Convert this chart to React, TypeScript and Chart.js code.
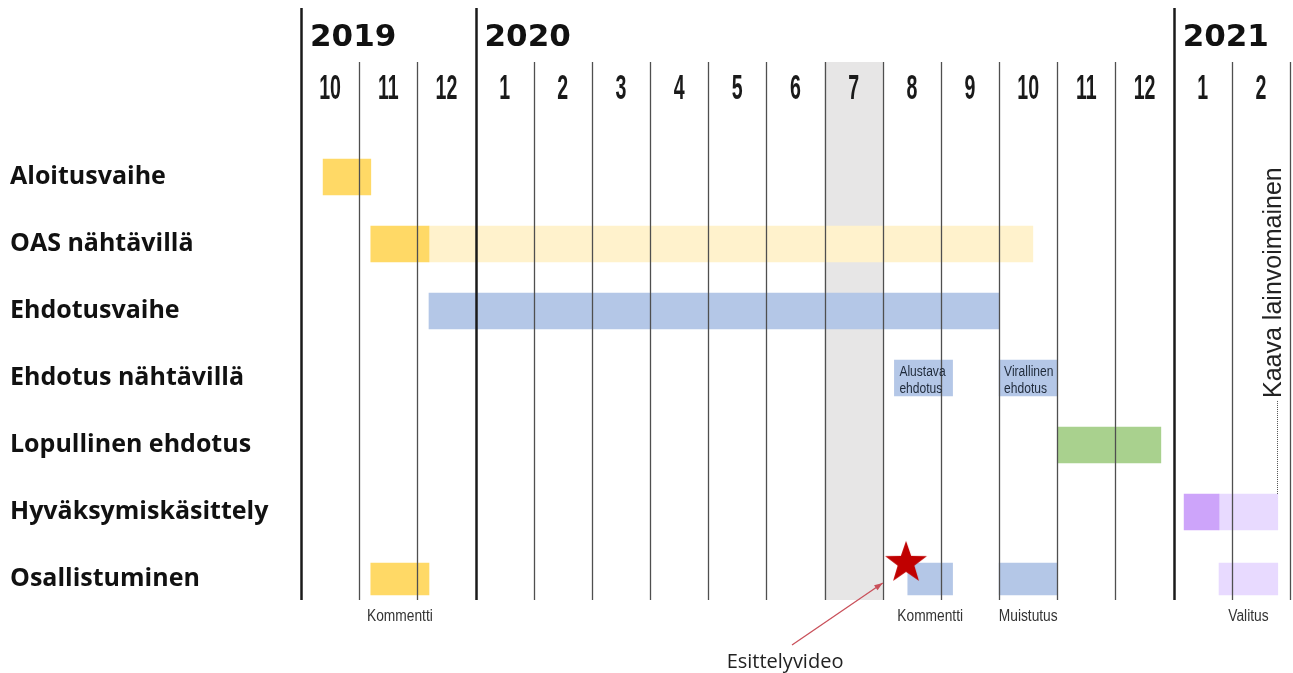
import React, { useEffect, useRef } from "react";
import { Chart, registerables } from "chart.js";

Chart.register(...registerables);

// ---- Data ----
const ROWS = [
  "Aloitusvaihe",
  "OAS nähtävillä",
  "Ehdotusvaihe",
  "Ehdotus nähtävillä",
  "Lopullinen ehdotus",
  "Hyväksymiskäsittely",
  "Osallistuminen",
];
const MONTH_LABELS = ["10", "11", "12", "1", "2", "3", "4", "5", "6", "7", "8", "9", "10", "11", "12", "1", "2"];
const YEAR_LABELS = ["2019", "2020", "2021"];
const YEAR_START_INDEX = [0, 3, 15];
const HIGHLIGHT_INDEX = 9; // 7/2020

// bars: row index, start and end in months counted from the start of 10/2019
const YELLOW_ROWS = [0, 1];
const YELLOW_START = [0.38, 1.2];
const YELLOW_END = [1.2, 2.2];

const PALE_YELLOW_ROWS = [1];
const PALE_YELLOW_START = [2.2];
const PALE_YELLOW_END = [12.58];

const BLUE_ROWS = [2];
const BLUE_START = [2.2];
const BLUE_END = [12.0];

const BOX_ROWS = [3, 3];
const BOX_START = [10.2, 12.0];
const BOX_END = [11.2, 13.0];
const BOX_LABELS = [["Alustava", "ehdotus"], ["Virallinen", "ehdotus"]];

const GREEN_ROWS = [4];
const GREEN_START = [13.0];
const GREEN_END = [14.78];

const PURPLE_ROWS = [5];
const PURPLE_START = [15.18];
const PURPLE_END = [15.78];

const LIGHT_PURPLE_ROWS = [5];
const LIGHT_PURPLE_START = [15.78];
const LIGHT_PURPLE_END = [16.79];

const PART_ROW = 6;
const PART_START = [1.2, 10.43, 12.0, 15.78];
const PART_END = [2.2, 11.2, 13.0, 16.79];
const PART_KIND = ["yellow", "blue", "blue", "lightPurple"];
const PART_LABELS = ["Kommentti", "Kommentti", "Muistutus", "Valitus"];

const STAR_X = [10.4];
const STAR_Y = [5.73];
const VIDEO_LABEL = "Esittelyvideo";
const LEGAL_LABEL = "Kaava lainvoimainen";

const COLORS: Record<string, string> = {
  yellow: "#FFD966",
  paleYellow: "#FFF2CC",
  blue: "#B4C7E7",
  green: "#A9D18E",
  purple: "#CDA4FA",
  lightPurple: "#E8DAFF",
};

function bars(rows: number[], start: number[], end: number[]) {
  return rows.map((r, i) => ({ x: [start[i], end[i]], y: r }));
}

function drawText(
  ctx: CanvasRenderingContext2D,
  text: string,
  x: number,
  y: number,
  font: string,
  color: string,
  align: CanvasTextAlign,
  scaleX = 1,
  baseline: CanvasTextBaseline = "middle"
) {
  ctx.save();
  ctx.font = font;
  ctx.fillStyle = color;
  ctx.textAlign = align;
  ctx.textBaseline = baseline;
  ctx.translate(x, y);
  ctx.scale(scaleX, 1);
  ctx.fillText(text, 0, 0);
  ctx.restore();
}

function makeStar(size: number, color: string) {
  const c = document.createElement("canvas");
  c.width = size;
  c.height = size;
  const ctx = c.getContext("2d")!;
  const R = size / 2 - 1;
  const r = R * 0.4;
  const cx = size / 2;
  const cy = size / 2 + R * 0.095;
  ctx.beginPath();
  for (let i = 0; i < 10; i++) {
    const rad = i % 2 === 0 ? R : r;
    const a = -Math.PI / 2 + (i * Math.PI) / 5;
    ctx.lineTo(cx + rad * Math.cos(a), cy + rad * Math.sin(a));
  }
  ctx.closePath();
  ctx.fillStyle = color;
  ctx.fill();
  return c;
}

const timelinePlugin = {
  id: "timeline",
  beforeDatasetsDraw(chart: any) {
    const { ctx, chartArea, scales } = chart;
    const xs = scales.x;
    const x0 = xs.getPixelForValue(HIGHLIGHT_INDEX);
    const x1 = xs.getPixelForValue(HIGHLIGHT_INDEX + 1);
    ctx.save();
    ctx.fillStyle = "#E7E6E6";
    ctx.fillRect(x0, chartArea.top, x1 - x0, chartArea.bottom - chartArea.top);
    ctx.restore();
  },
  afterDatasetsDraw(chart: any) {
    const { ctx, chartArea, scales } = chart;
    const xs = scales.x;
    const ys = scales.y;
    const top = chartArea.top;
    const bottom = chartArea.bottom;

    // vertical month lines (drawn over bars)
    ctx.save();
    for (let i = 0; i <= MONTH_LABELS.length; i++) {
      const x = Math.round(xs.getPixelForValue(i)) + 0.5;
      const isYear = YEAR_START_INDEX.includes(i);
      ctx.beginPath();
      ctx.strokeStyle = isYear ? "#1a1a1a" : "#4f4f4f";
      ctx.lineWidth = isYear ? 2.5 : 1.3;
      ctx.moveTo(x, isYear ? 8 : top);
      ctx.lineTo(x, bottom);
      ctx.stroke();
    }
    ctx.restore();

    // year headers
    YEAR_LABELS.forEach((label, i) => {
      const x = xs.getPixelForValue(YEAR_START_INDEX[i]) + 9;
      drawText(ctx, label, x, top - 24, "bold 31px 'DejaVu Sans'", "#111111", "left");
    });

    // month headers
    MONTH_LABELS.forEach((label, i) => {
      const x = xs.getPixelForValue(i + 0.5);
      drawText(ctx, label, x, top + 27, "bold 35px 'Liberation Sans'", "#1a1a1a", "center", 0.56);
    });

    // labels inside proposal boxes
    const boxMeta = chart.getDatasetMeta(4);
    boxMeta.data.forEach((el: any, i: number) => {
      const p = el.getProps(["x", "y", "base", "height"], true);
      const left = Math.min(p.x, p.base) + 5;
      const boxTop = p.y - p.height / 2;
      BOX_LABELS[i].forEach((line, j) => {
        drawText(ctx, line, left, boxTop + 16 + j * 17, "14px 'Liberation Sans'", "#1f2a3a", "left", 0.86, "alphabetic");
      });
    });

    // labels under participation bars
    const partMeta = chart.getDatasetMeta(8);
    partMeta.data.forEach((el: any, i: number) => {
      const p = el.getProps(["x", "y", "base", "height"], true);
      const cx = (p.x + p.base) / 2;
      drawText(ctx, PART_LABELS[i], cx, bottom + 17, "16px 'Liberation Sans'", "#333333", "center", 0.86);
    });

    // "Kaava lainvoimainen" with dotted leader line
    const lpMeta = chart.getDatasetMeta(7);
    const lp = lpMeta.data[0].getProps(["x", "y", "base", "height"], true);
    const lx = Math.round(Math.max(lp.x, lp.base)) - 0.5;
    const barTop = lp.y - lp.height / 2;
    const textStart = barTop - 96;
    ctx.save();
    ctx.strokeStyle = "#555555";
    ctx.lineWidth = 1;
    ctx.setLineDash([1, 1]);
    ctx.beginPath();
    ctx.moveTo(lx, textStart + 3);
    ctx.lineTo(lx, barTop);
    ctx.stroke();
    ctx.restore();
    ctx.save();
    ctx.translate(lx - 3, textStart);
    ctx.rotate(-Math.PI / 2);
    ctx.font = "25px 'Liberation Sans'";
    ctx.fillStyle = "#222222";
    ctx.textAlign = "left";
    ctx.textBaseline = "middle";
    ctx.fillText(LEGAL_LABEL, 0, 0);
    ctx.restore();

    // arrow to the star and its label
    const tailX = xs.getPixelForValue(8.44);
    const tailY = ys.getPixelForValue(6.985);
    const tipX = xs.getPixelForValue(10.0);
    const tipY = ys.getPixelForValue(6.06);
    ctx.save();
    ctx.strokeStyle = "#C9505A";
    ctx.fillStyle = "#C9505A";
    ctx.lineWidth = 1.3;
    ctx.beginPath();
    ctx.moveTo(tailX, tailY);
    ctx.lineTo(tipX, tipY);
    ctx.stroke();
    const ang = Math.atan2(tipY - tailY, tipX - tailX);
    const ah = 9;
    ctx.beginPath();
    ctx.moveTo(tipX, tipY);
    ctx.lineTo(tipX - ah * Math.cos(ang - 0.35), tipY - ah * Math.sin(ang - 0.35));
    ctx.lineTo(tipX - ah * Math.cos(ang + 0.35), tipY - ah * Math.sin(ang + 0.35));
    ctx.closePath();
    ctx.fill();
    ctx.restore();
    drawText(ctx, VIDEO_LABEL, xs.getPixelForValue(8.32), ys.getPixelForValue(7.24), "20px 'Open Sans'", "#222222", "center");
  },
};

export default function App() {
  const ref = useRef<HTMLCanvasElement | null>(null);

  useEffect(() => {
    if (!ref.current) return;
    const star = makeStar(46, "#C00000");
    const barDs = (data: any[], color: any, thickness = 36) => ({
      type: "bar" as const,
      data,
      backgroundColor: color,
      borderWidth: 0,
      grouped: false,
      barThickness: thickness,
    });
    const chart = new Chart(ref.current, {
      type: "bar",
      data: {
        datasets: [
          barDs(bars(YELLOW_ROWS, YELLOW_START, YELLOW_END), COLORS.yellow),
          barDs(bars(PALE_YELLOW_ROWS, PALE_YELLOW_START, PALE_YELLOW_END), COLORS.paleYellow),
          barDs(bars(BLUE_ROWS, BLUE_START, BLUE_END), COLORS.blue),
          barDs(bars(GREEN_ROWS, GREEN_START, GREEN_END), COLORS.green),
          barDs(bars(BOX_ROWS, BOX_START, BOX_END), COLORS.blue),
          {
            type: "scatter" as const,
            data: STAR_X.map((x, i) => ({ x, y: STAR_Y[i] })),
            pointStyle: star as any,
            pointRadius: 20,
            showLine: false,
          } as any,
          barDs(bars(PURPLE_ROWS, PURPLE_START, PURPLE_END), COLORS.purple),
          barDs(bars(LIGHT_PURPLE_ROWS, LIGHT_PURPLE_START, LIGHT_PURPLE_END), COLORS.lightPurple),
          barDs(
            PART_START.map((s, i) => ({ x: [s, PART_END[i]], y: PART_ROW })),
            PART_KIND.map((k) => COLORS[k]),
            32
          ),
        ] as any,
      },
      options: {
        indexAxis: "y",
        responsive: false,
        animation: false,
        layout: { autoPadding: false, padding: { top: 62, left: 10, right: 3, bottom: 73 } },
        plugins: { legend: { display: false }, tooltip: { enabled: false } },
        scales: {
          x: { type: "linear", min: 0, max: MONTH_LABELS.length, display: false, offset: false },
          y: {
            type: "linear",
            reverse: true,
            offset: false,
            min: -1.716,
            max: 6.314,
            grid: { display: false, offset: false },
            border: { display: false },
            afterBuildTicks: (axis: any) => {
              axis.ticks = ROWS.map((_, i) => ({ value: i }));
            },
            afterFit: (axis: any) => {
              axis.width = 291;
            },
            ticks: {
              autoSkip: false,
              crossAlign: "far",
              padding: 0,
              color: "#111111",
              font: { family: "'Open Sans'", weight: "bold", size: 25 },
              callback: (v: any) => ROWS[Number(v)] ?? "",
            },
          },
        },
      } as any,
      plugins: [timelinePlugin],
    });
    return () => chart.destroy();
  }, []);

  return (
    <div style={{ position: "absolute", left: 0, top: 0, width: 1293, height: 673, background: "#ffffff" }}>
      <canvas ref={ref} width={1293} height={673} style={{ display: "block" }} />
    </div>
  );
}
